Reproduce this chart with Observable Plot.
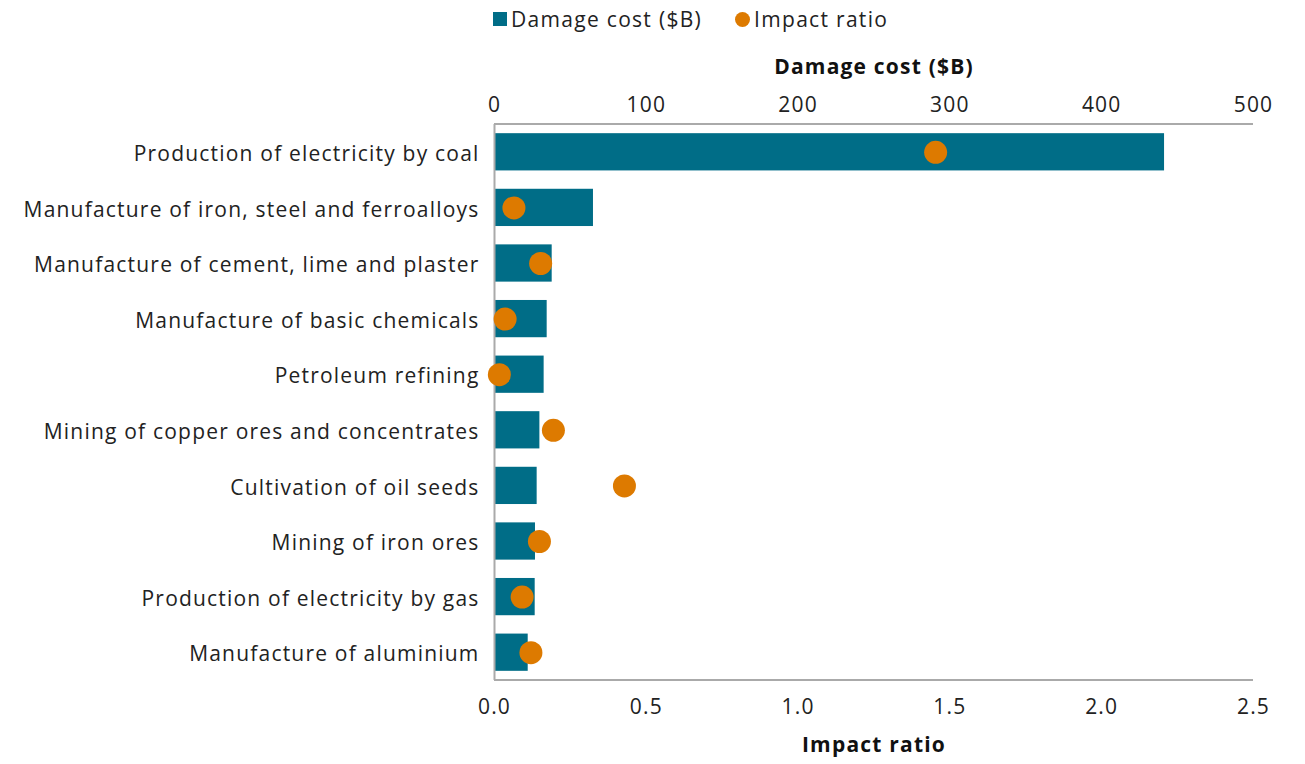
<!DOCTYPE html>
<html>
<head>
<meta charset="utf-8">
<script src="https://cdn.jsdelivr.net/npm/d3@7"></script>
<script src="https://cdn.jsdelivr.net/npm/@observablehq/plot@0.6"></script>
<style>
  html, body { margin: 0; padding: 0; background: #fff; }
  body { width: 1305px; height: 764px; overflow: hidden; font-family: "Open Sans", Roboto, sans-serif; color: #222; }
  #legend { height: 38px; display: flex; align-items: center; font-size: 21px; padding-left: 493px; letter-spacing: 1.3px; }
  .item { display: flex; align-items: center; margin-right: 33px; }
  .sw { width: 14px; height: 14px; margin-right: 4px; }
  .dot { width: 15px; height: 15px; border-radius: 50%; margin-right: 4px; }
  #chart svg { display: block; }
  #chart svg text { letter-spacing: 1.2px; }
</style>
</head>
<body>
<div id="legend">
  <div class="item"><span class="sw" style="background:#006d87"></span>Damage cost ($B)</div>
  <div class="item"><span class="dot" style="background:#dd7a00"></span>Impact ratio</div>
</div>
<div id="chart"></div>
<script>
const categories = [
  "Production of electricity by coal",
  "Manufacture of iron, steel and ferroalloys",
  "Manufacture of cement, lime and plaster",
  "Manufacture of basic chemicals",
  "Petroleum refining",
  "Mining of copper ores and concentrates",
  "Cultivation of oil seeds",
  "Mining of iron ores",
  "Production of electricity by gas",
  "Manufacture of aluminium"
];
const damageCost = [441.4, 65.2, 38.0, 34.7, 32.7, 29.9, 28.1, 27.0, 26.8, 22.2];
const impactRatio = [1.453, 0.064, 0.152, 0.035, 0.016, 0.194, 0.428, 0.148, 0.091, 0.120];
const damageTicks = [0, 100, 200, 300, 400, 500];
const ratioTicks = [0, 0.5, 1.0, 1.5, 2.0, 2.5];

const DAMAGE_MAX = 500, RATIO_MAX = 2.5;
const k = DAMAGE_MAX / RATIO_MAX;
const data = categories.map((c, i) => ({category: c, damage: damageCost[i], ratio: impactRatio[i], ratioScaled: impactRatio[i] * k}));

const FONT = "'Open Sans', Roboto, sans-serif";
const chart = Plot.plot({
  width: 1305,
  height: 726,
  marginLeft: 494,
  marginRight: 52,
  marginTop: 86,
  marginBottom: 84,
  style: {fontFamily: FONT, fontSize: "21px", color: "#222", background: "#fff"},
  x: {domain: [0, DAMAGE_MAX]},
  y: {domain: categories, paddingInner: 0.33, paddingOuter: 0.165, round: false, label: null},
  marks: [
    Plot.barX(data, {y: "category", x: "damage", fill: "#006d87"}),
    Plot.ruleX([0], {stroke: "#aaa", strokeWidth: 2}),
    Plot.dot(data, {y: "category", x: "ratioScaled", r: 11.5, fill: "#dd7a00"}),
    Plot.axisY({tickSize: 0, tickPadding: 15, fontSize: 21, dy: 2, label: null}),
    Plot.axisX(damageTicks, {anchor: "top", tickSize: 0, tickPadding: 13, label: null, fontSize: 21}),
    Plot.axisX(ratioTicks.map(t => t * k), {anchor: "bottom", tickSize: 0, tickPadding: 19, tickFormat: d => (d / k).toFixed(1), label: null, fontSize: 21}),
    Plot.text(["Damage cost ($B)"], {frameAnchor: "top", dy: -65, fontWeight: "bold", fontSize: 21, fill: "#111"}),
    Plot.text(["Impact ratio"], {frameAnchor: "bottom", dy: 71, fontWeight: "bold", fontSize: 21, fill: "#111"})
  ]
});
document.getElementById("chart").appendChild(chart);

// top and bottom frame lines, positioned from the plot's own scales
const xr = chart.scale("x").range;
const yr = chart.scale("y").range;
const svg = d3.select(chart);
[yr[0], yr[1]].forEach(y => {
  svg.append("line")
    .attr("x1", Math.min(...xr)).attr("x2", Math.max(...xr))
    .attr("y1", y).attr("y2", y)
    .attr("stroke", "#aaa").attr("stroke-width", 2);
});
</script>
</body>
</html>
